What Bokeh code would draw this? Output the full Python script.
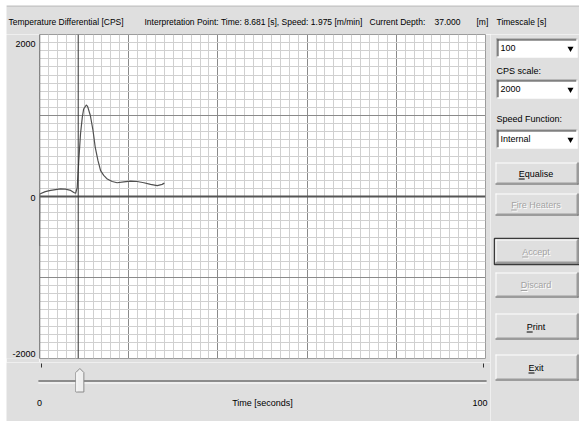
from bokeh.plotting import figure
from bokeh.models import Range1d, SingleIntervalTicker, Grid, Span
from bokeh.layouts import column, row
from bokeh.embed import file_html
from bokeh.resources import INLINE
from bokeh.core.properties import value

# ---------------------------------------------------------------- data
# Recorded temperature differential trace
time_s = [0.0, 0.05, 1.3, 2.5, 3.6, 4.7, 5.8, 7.0, 7.7, 8.1, 8.45, 8.8, 9.2,
          9.6, 9.9, 10.5, 10.8, 11.4, 12.0, 12.5, 13.1, 13.7, 14.4, 15.2,
          16.3, 17.4, 18.9, 20.4, 21.9, 23.4, 24.9, 26.4, 27.5, 28.0]
temp_diff_cps = [-610, 30, 60, 75, 85, 95, 90, 75, 50, 40, 110, 440, 775,
                 980, 1080, 1130, 1110, 1000, 815, 605, 445, 320, 260, 215,
                 185, 170, 180, 190, 185, 170, 150, 135, 150, 165]

# Read-outs shown in the header
interp_time_s = 8.681
interp_speed = 1.975
current_depth_m = 37.000

# Axis texts
y_tick_values = [2000, 0, -2000]
x_tick_values = [0, 100]
y_title = "Temperature Differential [CPS]"
x_title = "Time [seconds]"

# Control panel contents
timescale_choice = "100"
cps_scale_choice = "2000"
speed_function_choice = "Internal"
button_labels = ["Equalise", "Fire Heaters", "Accept", "Discard", "Print", "Exit"]
button_enabled = [True, False, False, False, True, True]

# ---------------------------------------------------------------- style
FONT = "Liberation Sans"
FS_HEAD = "8.5px"
FS = "9px"
PANEL = "#dfdfdf"
DARK = "#5a5a5a"
SHADE = "#9a9a9a"
DISABLED = "#a3a3a3"

X_MIN, X_MAX = 0, 100
Y_MIN, Y_MAX = -2000, 2000
PX_PER_S = 446 / (X_MAX - X_MIN)


def bare_fig(w, h, xr, yr, **kw):
    opts = dict(min_border=0)
    opts.update(kw)
    f = figure(width=w, height=h, x_range=xr, y_range=yr,
               x_axis_type=None, y_axis_type=None,
               toolbar_location=None, output_backend="svg", **opts)
    f.background_fill_color = PANEL
    f.border_fill_color = PANEL
    f.outline_line_color = None
    f.frame_align = False
    return f


def txt(f, x, y, s, color="black", align="left", size=FS, **kw):
    f.text(x=[x], y=[y], text=[s], text_font=value(FONT), text_font_size=size,
           text_color=color, text_align=align, text_baseline="middle", **kw)


# ---------------------------------------------------------------- header
header = bare_fig(573, 29, Range1d(6, 579), Range1d(34, 5))
header.segment(x0=[6], y0=[5.5], x1=[579], y1=[5.5], line_color="#b4b4b4", line_width=1)
txt(header, 8, 21.5, y_title, size=FS_HEAD)
txt(header, 144, 21.5,
    f"Interpretation Point: Time: {interp_time_s:.3f} [s], Speed: {interp_speed:.3f} [m/min]",
    size=FS_HEAD)
txt(header, 369, 21.5, "Current Depth:", size=FS_HEAD)
txt(header, 434, 21.5, f"{current_depth_m:.3f}", size=FS_HEAD)
txt(header, 476, 21.5, "[m]", size=FS_HEAD)
txt(header, 496, 21.5, "Timescale [s]", size=FS_HEAD)

# ---------------------------------------------------------------- chart
chart = figure(width=451, height=328,
               x_range=Range1d(X_MIN, X_MAX), y_range=Range1d(Y_MIN, Y_MAX),
               x_axis_type=None, y_axis_type=None,
               toolbar_location=None, output_backend="svg",
               min_border_left=0, min_border_right=5,
               min_border_top=0, min_border_bottom=4)
chart.background_fill_color = "white"
chart.border_fill_color = PANEL
chart.outline_line_color = "#9c9c9c"
chart.frame_align = False

for dim, step in ((0, 20), (1, 1000)):
    g = Grid(dimension=dim, ticker=SingleIntervalTicker(interval=step, num_minor_ticks=10))
    g.grid_line_color = "#8a8a8a"
    g.grid_line_width = 1
    g.minor_grid_line_color = "#d0d0d0"
    g.minor_grid_line_width = 1
    chart.add_layout(g)

chart.add_layout(Span(location=0, dimension="width", line_color="#555555", line_width=2))
chart.add_layout(Span(location=0, dimension="height", line_color="#6e6e6e", line_width=1.5))
chart.add_layout(Span(location=interp_time_s, dimension="height", line_color="#333333", line_width=1))

chart.line(time_s, temp_diff_cps, line_color="#505050", line_width=1.2)

# y tick labels share the chart's vertical scale
ylab = bare_fig(33, 328, Range1d(6, 39), chart.y_range,
                min_border_top=0, min_border_bottom=4)
for v, dy in zip(y_tick_values, (9, 1, -5)):
    txt(ylab, 35, v, str(v), align="right", y_offset=dy)

# ---------------------------------------------------------------- slider strip
bottom = bare_fig(484, 59,
                  Range1d(X_MIN - 33 / PX_PER_S, X_MAX + 5 / PX_PER_S),
                  Range1d(421, 362))
tick_lo = X_MIN + 2 / PX_PER_S
tick_hi = X_MAX - 2 / PX_PER_S
bottom.segment(x0=[X_MIN - 0.25], y0=[380.5], x1=[X_MAX + 0.25], y1=[380.5],
               line_color="#8c8c8c", line_width=2)
bottom.segment(x0=[X_MIN - 0.25], y0=[382.5], x1=[X_MAX + 0.25], y1=[382.5],
               line_color="white", line_width=1)
bottom.segment(x0=[tick_lo, tick_hi], y0=[363, 363], x1=[tick_lo, tick_hi], y1=[367, 367],
               line_color="#333333", line_width=1)
thumb_t = tick_lo + (tick_hi - tick_lo) * (interp_time_s - X_MIN) / (X_MAX - X_MIN)
hw = 4 / PX_PER_S
bottom.patch(x=[thumb_t, thumb_t + hw, thumb_t + hw, thumb_t - hw, thumb_t - hw],
             y=[368, 372, 391.5, 391.5, 372],
             fill_color="#efefef", line_color="#8a8a8a", line_width=1)
bottom.segment(x0=[thumb_t - hw + 0.2], y0=[372], x1=[thumb_t - hw + 0.2], y1=[391],
               line_color="white", line_width=1)
txt(bottom, x_tick_values[0], 402, str(x_tick_values[0]), align="center")
txt(bottom, x_tick_values[1], 402, str(x_tick_values[1]), align="right", x_offset=2)
txt(bottom, (X_MIN + X_MAX) / 2, 402, x_title, align="center")

# ---------------------------------------------------------------- control panel
side = bare_fig(89, 387, Range1d(490, 579), Range1d(421, 34))
L, R = 495, 578


def hline(f, x0, x1, y, c):
    f.segment(x0=[x0], y0=[y], x1=[x1], y1=[y], line_color=c, line_width=1)


def vline(f, x, y0, y1, c):
    f.segment(x0=[x], y0=[y0], x1=[x], y1=[y1], line_color=c, line_width=1)


def combo(f, t, b, s):
    l, r = 496, 577
    f.quad(left=l, right=r, top=t, bottom=b, fill_color="white", line_color=None)
    hline(f, l, r, t + 0.5, "#808080")
    vline(f, l + 0.5, t, b, "#808080")
    hline(f, l + 1, r - 1, t + 1.5, "#404040")
    vline(f, l + 1.5, t + 1, b - 1, "#404040")
    hline(f, l, r, b - 0.5, "white")
    vline(f, r - 0.5, t, b, "white")
    txt(f, l + 4, (t + b) / 2, s)
    f.scatter(x=[r - 7], y=[(t + b) / 2 + 0.5], marker="inverted_triangle", size=6,
              fill_color="black", line_color=None)


def button(f, t, b, s, enabled, ul, default=False):
    l, r = L, R
    if default:
        f.quad(left=l - 1, right=r + 1, top=t - 1, bottom=b + 1, fill_color=None,
               line_color="#3a3a3a", line_width=1.5)
    f.quad(left=l, right=r, top=t, bottom=b, fill_color=PANEL, line_color=None)
    hline(f, l, r - 1, t + 0.5, "white")
    vline(f, l + 0.5, t, b - 1, "white")
    hline(f, l, r, b - 0.5, DARK)
    vline(f, r - 0.5, t, b, DARK)
    hline(f, l + 1, r - 1, b - 1.5, SHADE)
    vline(f, r - 1.5, t + 1, b - 1, SHADE)
    cx, cy = (l + r) / 2 - 1, (t + b) / 2
    if enabled:
        txt(f, cx, cy, s, align="center")
        hline(f, cx + ul[0], cx + ul[1], cy + 5.5, "black")
    else:
        txt(f, cx + 1, cy + 1, s, color="white", align="center")
        hline(f, cx + ul[0] + 1, cx + ul[1] + 1, cy + 6.5, "white")
        txt(f, cx, cy, s, color=DISABLED, align="center")
        hline(f, cx + ul[0], cx + ul[1], cy + 5.5, DISABLED)


combo(side, 38, 57, timescale_choice)
txt(side, 496, 70, "CPS scale:")
combo(side, 79, 98, cps_scale_choice)
txt(side, 496, 118, "Speed Function:")
combo(side, 129, 148, speed_function_choice)

button_rows = [(162, 184), (193, 215), (239, 263), (272, 297), (313, 339), (354, 380)]
underline_spans = [(-17.3, -11.3), (-24.8, -19.3), (-13.8, -7.8),
                   (-15.3, -8.8), (-9.3, -3.3), (-7.5, -1.5)]
for (t, b), s, en, ul in zip(button_rows, button_labels, button_enabled, underline_spans):
    button(side, t, b, s, en, ul, default=(s == "Accept"))

layout = column(header,
                row(column(row(ylab, chart), bottom), side),
                margin=(5, 0, 0, 6))

open("out.html", "w").write(file_html(layout, INLINE))
